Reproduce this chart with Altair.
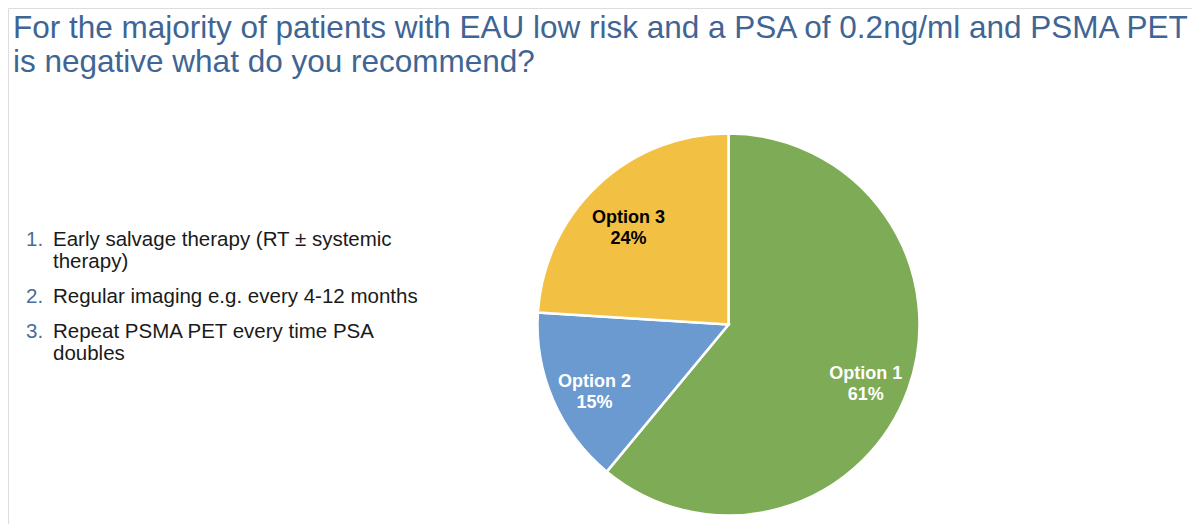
import altair as alt
import pandas as pd

# ---- data ----
options = ["Option 1", "Option 2", "Option 3"]
shares = [61, 15, 24]
slice_colors = ["#7EAB55", "#6A9AD0", "#F2C144"]

title_lines = [
    "For the majority of patients with EAU low risk and a PSA of 0.2ng/ml and PSMA PET",
    "is negative what do you recommend?",
]
list_numbers = ["1.", "", "2.", "3.", ""]
list_texts = [
    "Early salvage therapy (RT \u00b1 systemic",
    "therapy)",
    "Regular imaging e.g. every 4-12 months",
    "Repeat PSMA PET every time PSA",
    "doubles",
]

# ---- layout constants (vega coords = page coords - 8) ----
W, H = 1184, 516
CX, CY, R = 720.5, 316.5, 191
FONT = "Liberation Sans"
TITLE_COLOR = "#3F6594"
NUM_COLOR = "#4A6C97"

pie_df = pd.DataFrame({
    "option": options,
    "share": shares,
    "order": list(range(len(options))),
    "label": [f"{o}\n{s}%" for o, s in zip(options, shares)],
})

base = alt.Chart(pie_df).encode(
    theta=alt.Theta("share:Q", stack=True),
    order=alt.Order("order:Q"),
)

pie = base.mark_arc(outerRadius=R, stroke="white", strokeWidth=2.5).encode(
    x=alt.value(CX), y=alt.value(CY),
    color=alt.Color("option:N", scale=alt.Scale(domain=options, range=slice_colors), legend=None),
)

labels = base.mark_text(
    radius=146, font=FONT, fontSize=18, fontWeight="bold", lineBreak="\n",
    lineHeight=21, align="center", baseline="middle",
).encode(
    x=alt.value(CX), y=alt.value(CY),
    text=alt.Text("label:N"),
    color=alt.condition(alt.datum.option == "Option 3", alt.value("#000000"), alt.value("#FFFFFF")),
)

layers = [pie, labels]

# title lines
title_y = [29.5, 63.5]
for line, ty in zip(title_lines, title_y):
    layers.append(
        alt.Chart(pd.DataFrame({"t": [line]})).mark_text(
            font=FONT, fontSize=31.5, color=TITLE_COLOR, align="left", baseline="alphabetic"
        ).encode(x=alt.value(5), y=alt.value(ty), text="t:N")
    )

# numbered list
list_y = [238, 260, 295, 330, 352]
for num, txt, ly in zip(list_numbers, list_texts, list_y):
    if num:
        layers.append(
            alt.Chart(pd.DataFrame({"t": [num]})).mark_text(
                font=FONT, fontSize=20.5, color=NUM_COLOR, align="left", baseline="alphabetic"
            ).encode(x=alt.value(18), y=alt.value(ly), text="t:N")
        )
    layers.append(
        alt.Chart(pd.DataFrame({"t": [txt]})).mark_text(
            font=FONT, fontSize=20.5, color="#1A1A1A", align="left", baseline="alphabetic"
        ).encode(x=alt.value(45), y=alt.value(ly), text="t:N")
    )

chart = alt.layer(*layers).properties(
    width=W, height=H, padding=0,
    autosize=alt.AutoSizeParams(type="fit", contains="padding"),
).configure_view(stroke=None).configure(background="white")

chart.save("out.html", embed_options={"renderer": "svg", "actions": False})
